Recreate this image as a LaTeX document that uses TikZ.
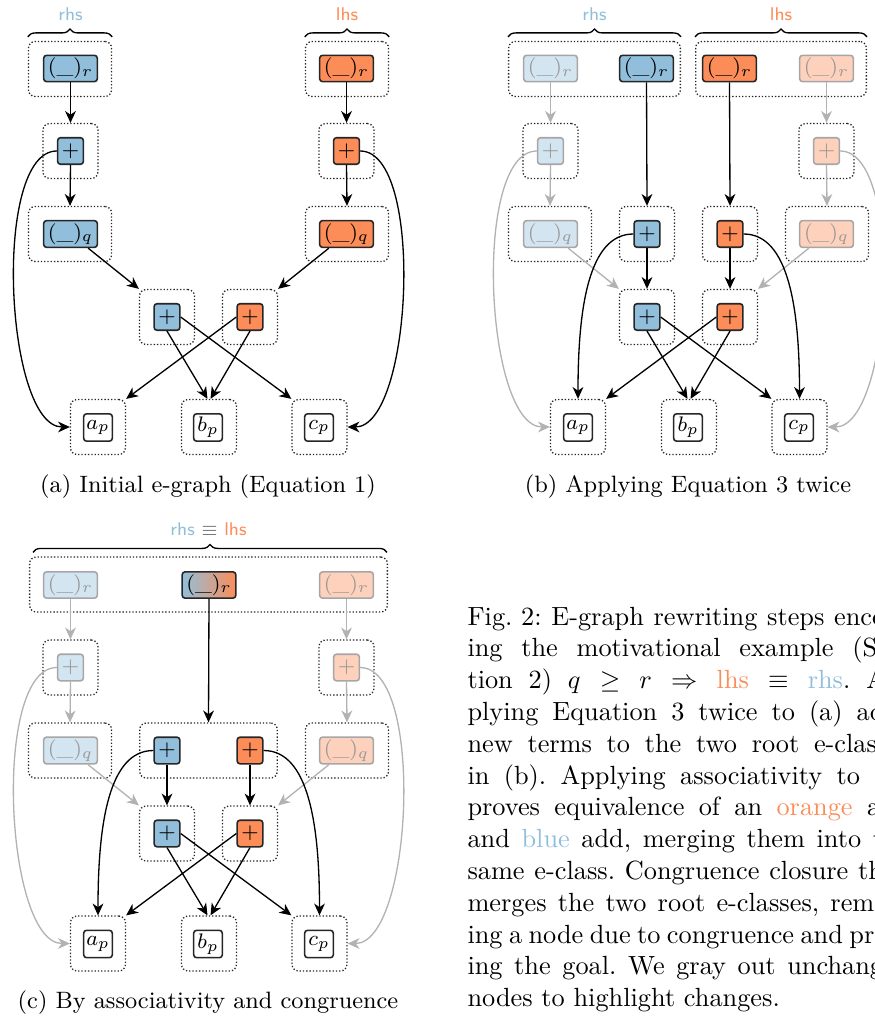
\documentclass[tikz,border=0pt]{standalone}
\usetikzlibrary{arrows.meta,decorations.pathreplacing,calc}
\definecolor{cblue}{HTML}{91BFDB}
\definecolor{corange}{HTML}{FC8D59}
\colorlet{lblue}{cblue!40}
\colorlet{lorange}{corange!40}
\colorlet{fadeline}{black!30}
\tikzset{
 enode/.style={draw=black!85, line width=0.6pt, rounded corners=1.1pt, inner sep=1pt, font=\footnotesize},
 rnode/.style={enode, minimum width=20.4pt, minimum height=9.9pt},
 pnode/.style={enode, minimum width=9.8pt, minimum height=10.1pt},
 leaf/.style={enode, minimum width=10.9pt, minimum height=10.4pt, fill=white},
 bluef/.style={fill=cblue},
 orangef/.style={fill=corange},
 fadeb/.style={fill=lblue, draw=black!35, text=black!40},
 fadeo/.style={fill=lorange, draw=black!35, text=black!40},
 eclass/.style={draw=black!85, line width=0.5pt, dash pattern=on 0.5pt off 0.75pt, rounded corners=2.5pt, inner sep=0pt, minimum height=20.9pt},
 ec1/.style={eclass, minimum width=31.6pt},
 ec2/.style={eclass, minimum width=20.9pt},
 edge/.style={-{Stealth[length=4.5pt,width=4.1pt,inset=1.4pt]}, line width=0.5pt},
 fedge/.style={edge, draw=fadeline},
 brace/.style={decorate, decoration={brace, amplitude=3pt}, line width=0.5pt},
 side/.style={font=\sffamily\scriptsize, anchor=base},
 subcap/.style={font=\small, anchor=base, inner sep=0pt},
 capline/.style={anchor=base west, inner sep=0pt, font=\normalsize\frenchspacing},
}
\newcommand{\Wcap}{168pt}
\begin{document}
\begin{tikzpicture}[x={(0.3802pt,0)}, y={(0,-0.3802pt)}]
\path[use as bounding box] (0,0) rectangle (875,1017);
\clip (0,0) rectangle (875,1017);

% ================= (a) =================
\node[ec1] (aERr) at (70,69) {};
\node[ec2] (aERp) at (70.5,151) {};
\node[ec1] (aERq) at (70,234) {};
\node[ec1] (aELr) at (347,69) {};
\node[ec2] (aELp) at (346.5,151) {};
\node[ec1] (aELq) at (347,234) {};
\node[ec2] (aEBp) at (167,317) {};
\node[ec2] (aEOp) at (250,317) {};
\node[ec2] (aEA) at (98,427) {};
\node[ec2] (aEB) at (209,427) {};
\node[ec2] (aEC) at (319.5,427) {};

\node[rnode,bluef] (aRr) at (70.5,68.5) {$(\_)_r$};
\node[pnode,bluef] (aRp) at (70.5,151) {$+$};
\node[rnode,bluef] (aRq) at (70.5,234) {$(\_)_q$};
\node[rnode,orangef] (aLr) at (346.5,68.5) {$(\_)_r$};
\node[pnode,orangef] (aLp) at (346.5,151) {$+$};
\node[rnode,orangef] (aLq) at (346.5,234) {$(\_)_q$};
\node[pnode,bluef] (aBp) at (167,317) {$+$};
\node[pnode,orangef] (aOp) at (250,317) {$+$};
\node[leaf] (aA) at (98,427.5) {$a_p$};
\node[leaf] (aB) at (208,427.5) {$b_p$};
\node[leaf] (aC) at (319,427.5) {$c_p$};

\draw[brace] ($(aERr.north west)+(0,-4)$) -- ($(aERr.north east)+(0,-4)$);
\draw[brace] ($(aELr.north west)+(0,-4)$) -- ($(aELr.north east)+(0,-4)$);
\node[side, text=cblue] (aRlab) at (70.5,21) {rhs};
\node[side, text=corange] (aLlab) at (347,21) {lhs};

\draw[edge] (aRr.south) -- (aERp.north);
\draw[edge] (aRp.south) -- (aERq.north);
\draw[edge] (aRq) -- (aEBp.north west);
\draw[edge] (aRp.west) .. controls ($(aRp.west)+(-65,0)$) and ($(aEA.west)+(-65,0)$) .. (aEA.west);
\draw[edge] (aLr.south) -- (aELp.north);
\draw[edge] (aLp.south) -- (aELq.north);
\draw[edge] (aLq) -- (aEOp.north east);
\draw[edge] (aLp.east) .. controls ($(aLp.east)+(65,0)$) and ($(aEC.east)+(65,0)$) .. (aEC.east);
\draw[edge] (aBp.south) -- ($(aEB.north)+(-1.5,0)$);
\draw[edge] (aBp.east) -- (aEC.north west);
\draw[edge] (aOp.west) -- (aEA.north east);
\draw[edge] (aOp.south) -- ($(aEB.north)+(1.5,0)$);

\node[subcap] (capa) at (208,492) {(a) Initial e-graph (Equation 1)};

% ================= (b) =================
\node[eclass, minimum width=65.3pt] (bER) at (594.5,69) {};
\node[eclass, minimum width=64.9pt] (bEL) at (781,69) {};
\node[ec2] (bERp) at (550.5,151) {};
\node[ec2] (bELp) at (826.5,151) {};
\node[ec1] (bERq) at (550,234) {};
\node[ec1] (bELq) at (827,234) {};
\node[ec2] (bEB3) at (647,234) {};
\node[ec2] (bEO3) at (730,234) {};
\node[ec2] (bEBp) at (647,317) {};
\node[ec2] (bEOp) at (730,317) {};
\node[ec2] (bEA) at (578,427) {};
\node[ec2] (bEB) at (689,427) {};
\node[ec2] (bEC) at (799.5,427) {};

\node[rnode,fadeb] (bRr) at (550.5,68.5) {$(\_)_r$};
\node[rnode,bluef] (bRr2) at (646.5,68.5) {$(\_)_r$};
\node[rnode,orangef] (bLr2) at (729.5,68.5) {$(\_)_r$};
\node[rnode,fadeo] (bLr) at (826.5,68.5) {$(\_)_r$};
\node[pnode,fadeb] (bRp) at (550.5,151) {$+$};
\node[pnode,fadeo] (bLp) at (826.5,151) {$+$};
\node[rnode,fadeb] (bRq) at (550.5,234) {$(\_)_q$};
\node[rnode,fadeo] (bLq) at (826.5,234) {$(\_)_q$};
\node[pnode,bluef] (bB3) at (647,234) {$+$};
\node[pnode,orangef] (bO3) at (730,234) {$+$};
\node[pnode,bluef] (bBp) at (647,317) {$+$};
\node[pnode,orangef] (bOp) at (730,317) {$+$};
\node[leaf] (bA) at (578,427.5) {$a_p$};
\node[leaf] (bB) at (688,427.5) {$b_p$};
\node[leaf] (bC) at (799,427.5) {$c_p$};

\draw[brace] ($(bER.north west)+(0,-4)$) -- ($(bER.north east)+(0,-4)$);
\draw[brace] ($(bEL.north west)+(0,-4)$) -- ($(bEL.north east)+(0,-4)$);
\node[side, text=cblue] (bRlab) at (594.5,21) {rhs};
\node[side, text=corange] (bLlab) at (781,21) {lhs};

\draw[fedge] (bRr.south) -- (bERp.north);
\draw[fedge] (bRp.south) -- (bERq.north);
\draw[fedge] (bRq) -- (bEBp.north west);
\draw[fedge] (bRp.west) .. controls ($(bRp.west)+(-65,0)$) and ($(bEA.west)+(-65,0)$) .. (bEA.west);
\draw[fedge] (bLr.south) -- (bELp.north);
\draw[fedge] (bLp.south) -- (bELq.north);
\draw[fedge] (bLq) -- (bEOp.north east);
\draw[fedge] (bLp.east) .. controls ($(bLp.east)+(65,0)$) and ($(bEC.east)+(65,0)$) .. (bEC.east);
\draw[edge] (bRr2.south) -- (bEB3.north);
\draw[edge] (bLr2.south) -- (bEO3.north);
\draw[edge] (bB3.south) -- (bEBp.north);
\draw[edge] (bO3.south) -- (bEOp.north);
\draw[edge] (bB3.west) .. controls ($(bB3.west)+(-45,0)$) and ($(bEA.north)+(0,-90)$) .. (bEA.north);
\draw[edge] (bO3.east) .. controls ($(bO3.east)+(45,0)$) and ($(bEC.north)+(0,-90)$) .. (bEC.north);
\draw[edge] (bBp.south) -- ($(bEB.north)+(-1.5,0)$);
\draw[edge] (bBp.east) -- (bEC.north west);
\draw[edge] (bOp.west) -- (bEA.north east);
\draw[edge] (bOp.south) -- ($(bEB.north)+(1.5,0)$);

\node[subcap] (capb) at (688,492) {(b) Applying Equation 3 twice};

% ================= (c) =================
\node[eclass, minimum width=136pt] (cE) at (208.5,584.5) {};
\node[ec2] (cERp) at (70.5,667.5) {};
\node[ec2] (cELp) at (346.5,667.5) {};
\node[ec1] (cERq) at (70,750.5) {};
\node[ec1] (cELq) at (347,750.5) {};
\node[eclass, minimum width=52.3pt] (cEM) at (208.5,750.5) {};
\node[ec2] (cEBp) at (167,833.5) {};
\node[ec2] (cEOp) at (250,833.5) {};
\node[ec2] (cEA) at (98,943.5) {};
\node[ec2] (cEB) at (209,943.5) {};
\node[ec2] (cEC) at (319.5,943.5) {};

\node[rnode,fadeb] (cRr) at (70.5,585) {$(\_)_r$};
\node[rnode,left color=cblue,right color=corange] (cMr) at (209,585) {$(\_)_r$};
\node[rnode,fadeo] (cLr) at (346.5,585) {$(\_)_r$};
\node[pnode,fadeb] (cRp) at (70.5,667.5) {$+$};
\node[pnode,fadeo] (cLp) at (346.5,667.5) {$+$};
\node[rnode,fadeb] (cRq) at (70.5,750.5) {$(\_)_q$};
\node[rnode,fadeo] (cLq) at (346.5,750.5) {$(\_)_q$};
\node[pnode,bluef] (cB3) at (167,750.5) {$+$};
\node[pnode,orangef] (cO3) at (250,750.5) {$+$};
\node[pnode,bluef] (cBp) at (167,833.5) {$+$};
\node[pnode,orangef] (cOp) at (250,833.5) {$+$};
\node[leaf] (cA) at (98,944) {$a_p$};
\node[leaf] (cB) at (208,944) {$b_p$};
\node[leaf] (cC) at (319,944) {$c_p$};

\draw[brace] ($(cE.north west)+(4,-4)$) -- ($(cE.north east)+(-1,-4)$);
\node[side] (cLab) at (208.5,535) {\textcolor{cblue}{rhs} \textcolor{black!60}{$\equiv$} \textcolor{corange}{lhs}};

\draw[fedge] (cRr.south) -- (cERp.north);
\draw[fedge] (cRp.south) -- (cERq.north);
\draw[fedge] (cRq) -- (cEBp.north west);
\draw[fedge] (cRp.west) .. controls ($(cRp.west)+(-65,0)$) and ($(cEA.west)+(-65,0)$) .. (cEA.west);
\draw[fedge] (cLr.south) -- (cELp.north);
\draw[fedge] (cLp.south) -- (cELq.north);
\draw[fedge] (cLq) -- (cEOp.north east);
\draw[fedge] (cLp.east) .. controls ($(cLp.east)+(65,0)$) and ($(cEC.east)+(65,0)$) .. (cEC.east);
\draw[edge] (cMr.south) -- (cEM.north);
\draw[edge] (cB3.south) -- (cEBp.north);
\draw[edge] (cO3.south) -- (cEOp.north);
\draw[edge] (cB3.west) .. controls ($(cB3.west)+(-45,0)$) and ($(cEA.north)+(0,-90)$) .. (cEA.north);
\draw[edge] (cO3.east) .. controls ($(cO3.east)+(45,0)$) and ($(cEC.north)+(0,-90)$) .. (cEC.north);
\draw[edge] (cBp.south) -- ($(cEB.north)+(-1.5,0)$);
\draw[edge] (cBp.east) -- (cEC.north west);
\draw[edge] (cOp.west) -- (cEA.north east);
\draw[edge] (cOp.south) -- ($(cEB.north)+(1.5,0)$);

\node[subcap] (capc) at (208,1008) {(c) By associativity and congruence};

% ================= main caption =================
\node[capline] (l1) at (467,625) {\makebox[\Wcap][s]{\mbox{Fig.~2:} E-graph rewriting steps encod-}};
\node[capline] (l2) at (467,656.8) {\makebox[\Wcap][s]{ing the motivational example (Sec-}};
\node[capline] (l3) at (467,688.6) {\makebox[\Wcap][s]{tion 2) $q \geq r \Rightarrow \textcolor{corange}{\mbox{lhs}} \equiv \textcolor{cblue}{\mbox{rhs}}$. Ap-}};
\node[capline] (l4) at (467,720.4) {\makebox[\Wcap][s]{plying Equation 3 twice to (a) adds}};
\node[capline] (l5) at (467,752.2) {\makebox[\Wcap][s]{new terms to the two root e-classes}};
\node[capline] (l6) at (467,784) {\makebox[\Wcap][s]{in (b). Applying associativity to (b)}};
\node[capline] (l7) at (467,815.8) {\makebox[\Wcap][s]{proves equivalence of an \textcolor{corange}{orange} add}};
\node[capline] (l8) at (467,847.6) {\makebox[\Wcap][s]{and \textcolor{cblue}{blue} add, merging them into the}};
\node[capline] (l9) at (467,879.4) {\makebox[\Wcap][s]{same e-class. Congruence closure then}};
\node[capline] (l10) at (467,911.2) {\makebox[\Wcap][s]{merges the two root e-classes, remov-}};
\node[capline] (l11) at (467,943) {\makebox[\Wcap][s]{ing a node due to congruence and prov-}};
\node[capline] (l12) at (467,974.8) {\makebox[\Wcap][s]{ing the goal. We gray out unchanged}};
\node[capline] (l13) at (467,1006.6) {nodes to highlight changes.};
\end{tikzpicture}
\end{document}
